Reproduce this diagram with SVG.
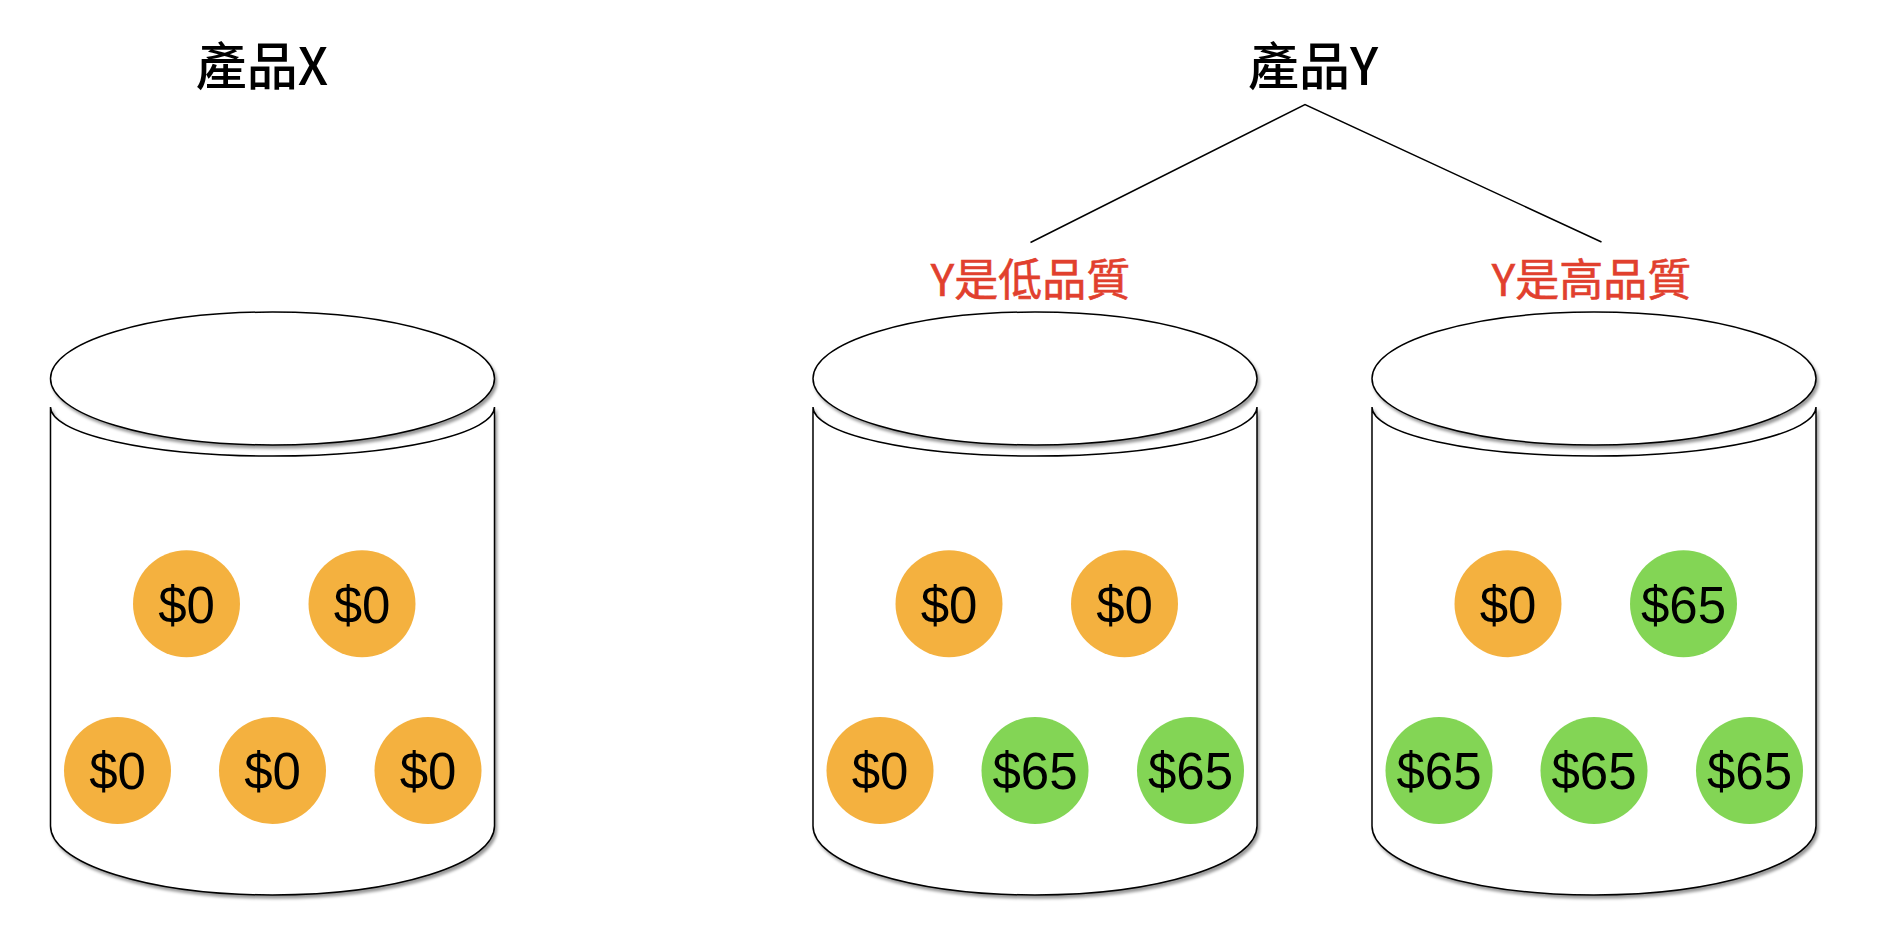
<svg xmlns="http://www.w3.org/2000/svg" width="1878" height="936" viewBox="0 0 1878 936">
<style>
.title{font-family:"Noto Sans CJK TC","Noto Sans CJK SC",sans-serif;font-size:51px;font-weight:500;fill:#000;text-anchor:middle}
.label{font-family:"Noto Sans CJK TC","Noto Sans CJK SC",sans-serif;font-size:44px;font-weight:400;fill:#E1402E;text-anchor:middle;stroke:#E1402E;stroke-width:0.6}
.cyl{fill:#fff;stroke:#000;stroke-width:1.5;filter:url(#sh)}
.orange{fill:#F4B13F}
.green{fill:#83D555}
.coin text{font-family:"Liberation Sans",Arial,sans-serif;font-size:51px;fill:#000;text-anchor:middle}
.conn{stroke:#000;stroke-width:1.5;fill:none}
</style>
<defs>
<filter id="sh" x="-10%" y="-10%" width="125%" height="125%">
<feDropShadow dx="2" dy="3" stdDeviation="1.6" flood-color="#000" flood-opacity="0.4"/>
</filter>
<g id="cylshape">
<path class="cyl" d="M50.5 407 L50.5 826 A222 69 0 0 0 494.5 826 L494.5 407 A222 49 0 0 1 50.5 407 Z"/>
<ellipse class="cyl" cx="272.5" cy="378.5" rx="222" ry="66.5"/>
</g>
</defs>
<rect width="1878" height="936" fill="#fff"/>

<g id="titleX"><text class="title" x="262" y="85">產品X</text></g>
<g id="titleY"><text class="title" x="1313" y="85">產品Y</text></g>

<g id="connectors">
<polyline class="conn" points="1030.5,242.5 1305,104.5 1601.5,242"/>
</g>

<g id="labelLow"><text class="label" x="1030.5" y="296">Y是低品質</text></g>
<g id="labelHigh"><text class="label" x="1591.5" y="296">Y是高品質</text></g>

<g id="cylinderX">
<use href="#cylshape"/>
<g class="coin"><circle class="orange" cx="186.5" cy="603.7" r="53.5"/><text x="186.5" y="622.5">$0</text></g>
<g class="coin"><circle class="orange" cx="362" cy="603.7" r="53.5"/><text x="362" y="622.5">$0</text></g>
<g class="coin"><circle class="orange" cx="117.5" cy="770.5" r="53.5"/><text x="117.5" y="789.3">$0</text></g>
<g class="coin"><circle class="orange" cx="272.5" cy="770.5" r="53.5"/><text x="272.5" y="789.3">$0</text></g>
<g class="coin"><circle class="orange" cx="428" cy="770.5" r="53.5"/><text x="428" y="789.3">$0</text></g>
</g>

<g id="cylinderYLow" transform="translate(762.5,0)">
<use href="#cylshape"/>
<g class="coin"><circle class="orange" cx="186.5" cy="603.7" r="53.5"/><text x="186.5" y="622.5">$0</text></g>
<g class="coin"><circle class="orange" cx="362" cy="603.7" r="53.5"/><text x="362" y="622.5">$0</text></g>
<g class="coin"><circle class="orange" cx="117.5" cy="770.5" r="53.5"/><text x="117.5" y="789.3">$0</text></g>
<g class="coin"><circle class="green" cx="272.5" cy="770.5" r="53.5"/><text x="272.5" y="789.3">$65</text></g>
<g class="coin"><circle class="green" cx="428" cy="770.5" r="53.5"/><text x="428" y="789.3">$65</text></g>
</g>

<g id="cylinderYHigh" transform="translate(1321.5,0)">
<use href="#cylshape"/>
<g class="coin"><circle class="orange" cx="186.5" cy="603.7" r="53.5"/><text x="186.5" y="622.5">$0</text></g>
<g class="coin"><circle class="green" cx="362" cy="603.7" r="53.5"/><text x="362" y="622.5">$65</text></g>
<g class="coin"><circle class="green" cx="117.5" cy="770.5" r="53.5"/><text x="117.5" y="789.3">$65</text></g>
<g class="coin"><circle class="green" cx="272.5" cy="770.5" r="53.5"/><text x="272.5" y="789.3">$65</text></g>
<g class="coin"><circle class="green" cx="428" cy="770.5" r="53.5"/><text x="428" y="789.3">$65</text></g>
</g>
</svg>
